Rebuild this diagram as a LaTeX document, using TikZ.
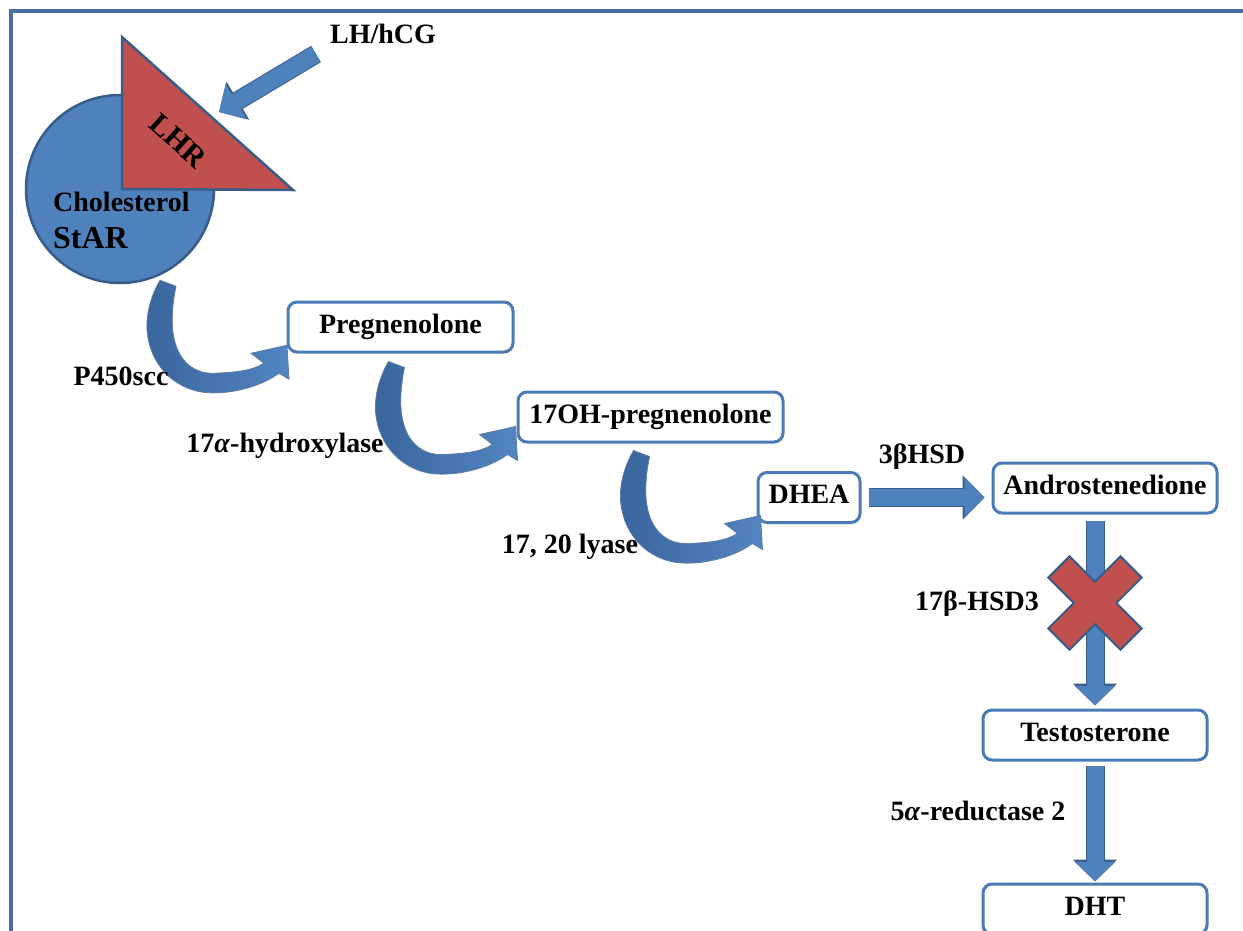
\documentclass[tikz,border=0pt]{standalone}
\usepackage{fontspec}
\setmainfont{Liberation Serif}
\usetikzlibrary{positioning, calc, arrows.meta}
\definecolor{officeblue}{HTML}{4F81BD}
\definecolor{outlineblue}{HTML}{385D8A}
\definecolor{officered}{HTML}{C0504D}
\definecolor{boxline}{HTML}{4A7BB7}
\definecolor{framecol}{HTML}{4A6D9F}
\definecolor{benddark}{HTML}{3A659D}
\definecolor{bendlight}{HTML}{5285C2}
\tikzset{
    stepbox/.style = {draw=boxline, line width=3pt, fill=white, rounded corners=9pt,
        minimum width=224pt, minimum height=50pt, inner xsep=5pt,
        text height=18pt, text depth=6pt, font=\fontsize{28}{32}\selectfont\bfseries},
    tag/.style = {anchor=base, inner sep=0pt, font=\fontsize{28}{32}\selectfont\bfseries},
    blockarrow/.style = {line width=17pt, officeblue, -{Triangle[width=40pt,length=20pt]},
        preaction={draw=outlineblue, line width=19pt, -{Triangle[width=43pt,length=22pt]}}},
    receptor/.style = {fill=officered, draw=outlineblue, line width=2.5pt},
    xmark/.style = {fill=officered, draw=outlineblue, line width=2pt},
    bendarrow/.pic = {
        \shade[left color=benddark, right color=bendlight, draw=outlineblue!80, line width=0.8pt]
            (0,0) -- (16,6) .. controls (12,25) and (11,45) .. (14,58)
            .. controls (19,82) and (35,94) .. (55,93)
            .. controls (75,92) and (91,91) .. (104,83)
            -- (91,73) -- (127,65) -- (129,99) -- (119,93)
            .. controls (100,107) and (68,115) .. (43,112)
            .. controls (15,108) and (-10,86) .. (-13,50)
            .. controls (-14,30) and (-7,12) .. (0,0) -- cycle;
    },
}

\begin{document}
\begin{tikzpicture}[x=1pt, y=-1pt]
        \useasboundingbox (0,0) rectangle (1243,930);
        % frame
        \draw[framecol, line width=3.5pt] (11,940) -- (11,11) -- (1260,11);
        % cell with receptor
        \node[circle, minimum size=188pt, fill=officeblue, draw=outlineblue, line width=2.5pt] (cell) at (120,189) {};
        \draw[receptor] (122,37) -- (122,189) -- (293,190) -- cycle;
        \node[tag, anchor=center, rotate=-42, font=\fontsize{30}{34}\selectfont\bfseries] (lhr) at (178,141) {LHR};
        \node[tag, anchor=base west] (chol) at (53,211) {Cholesterol};
        \node[tag, anchor=base west, font=\fontsize{32}{36}\selectfont\bfseries] (star) at (53,248) {StAR};
        \coordinate (lhtail) at (316,54);
        \coordinate (lhtip) at (219,112);
        \draw[blockarrow] (lhtail) -- (lhtip);
        \node[tag] (lh) at (383,43) {LH/hCG};
        % steroid chain
        \node[stepbox, minimum width=225pt] (preg) at (400.5,327) {Pregnenolone};
        \node[stepbox, minimum width=265pt] (ohpreg) at (650.5,417) {17OH-pregnenolone};
        \node[stepbox, minimum width=102pt] (dhea) at (809,497.5) {DHEA};
        \node[stepbox] (andro) at (1105,488) {Androstenedione};
        \node[stepbox, below=194pt of andro, xshift=-10pt] (testo) {Testosterone};
        \node[stepbox, below=121pt of testo] (dht) {DHT};
        % curved steps
        \pic at ($(cell.south)+(40,-4)$) {bendarrow};
        \pic at ($(preg.south)+(-12,8)$) {bendarrow};
        \pic at ($(ohpreg.south)+(-17,7)$) {bendarrow};
        % straight steps
        \draw[blockarrow, shorten <=7pt, shorten >=7pt] (dhea.east) -- (dhea.east -| andro.west);
        \draw[blockarrow, shorten <=6pt, shorten >=3pt] (testo.north |- andro.south) -- (testo.north);
        \draw[blockarrow, shorten <=4pt, shorten >=1pt] (testo) -- (dht);
        % blocked enzyme
        \begin{scope}[shift={(1095,603)}, rotate=45]
            \draw[xmark] (-15,-51) -- (15,-51) -- (15,-15) -- (51,-15) -- (51,15) -- (15,15)
                -- (15,51) -- (-15,51) -- (-15,15) -- (-51,15) -- (-51,-15) -- (-15,-15) -- cycle;
        \end{scope}
        % enzymes
        \node[tag] (scc) at (121,385) {P450scc};
        \node[tag] (hydrox) at (285,452) {17\textit{α}-hydroxylase};
        \node[tag] (lyase) at (570,553) {17, 20 lyase};
        \node[tag] (hsd) at (922,463) {3βHSD};
        \node[tag] (hsdiii) at (977,610) {17β-HSD3};
        \node[tag] (reduct) at (978,820) {5\textit{α}-reductase 2};
\end{tikzpicture}
\end{document}
